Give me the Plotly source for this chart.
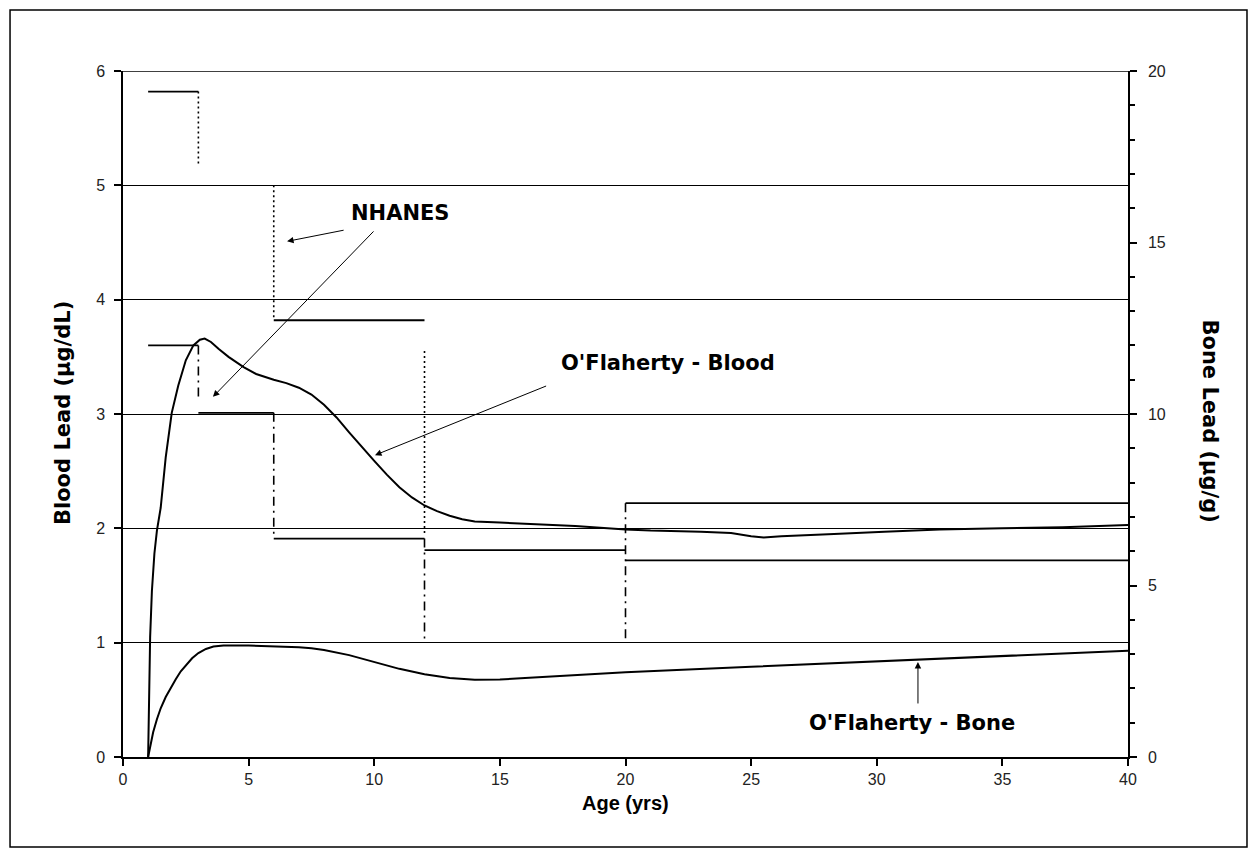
import plotly.graph_objects as go

# ---- NHANES blood lead by age group (µg/dL) ----
# horizontal steps: (age_start, age_end, level)
nhanes_start = [1, 1, 3, 6, 6, 12, 20, 20]
nhanes_end = [3, 3, 6, 12, 12, 20, 40, 40]
nhanes_level = [5.82, 3.6, 3.01, 3.82, 1.91, 1.81, 2.22, 1.72]

# dotted connectors between age groups: (age, from, to)
dot_age = [3, 6, 12]
dot_from = [5.82, 5.0, 3.55]
dot_to = [5.18, 3.82, 1.95]

# dash-dot connectors between age groups
dd_age = [3, 6, 12, 20]
dd_from = [3.6, 3.01, 1.91, 2.22]
dd_to = [3.15, 1.91, 1.0, 1.0]

# ---- O'Flaherty model: blood lead (µg/dL) ----
blood_age = [1.0, 1.03, 1.08, 1.15, 1.25, 1.35, 1.5, 1.7, 1.94, 2.2, 2.5, 2.8,
             3.06, 3.25, 3.5, 3.8, 4.2, 4.8, 5.3, 6.0, 6.5, 7.0, 7.5, 8.0, 8.5,
             9.0, 9.5, 10.0, 10.5, 11.0, 11.5, 12.0, 12.5, 13.0, 13.5, 14.0,
             15.0, 16.0, 18.0, 20.0, 21.0, 23.0, 24.2, 25.0, 25.5, 26.2, 27.0,
             28.3, 30.3, 32.5, 35.0, 37.4, 40.0]
blood_val = [0.0, 0.55, 1.05, 1.45, 1.78, 1.98, 2.18, 2.62, 3.01, 3.25, 3.47, 3.6,
             3.65, 3.66, 3.63, 3.57, 3.5, 3.41, 3.35, 3.30, 3.27, 3.23, 3.17, 3.08,
             2.97, 2.84, 2.71, 2.59, 2.47, 2.36, 2.27, 2.20, 2.15, 2.11, 2.08, 2.06,
             2.05, 2.04, 2.02, 1.99, 1.98, 1.97, 1.96, 1.93, 1.92, 1.93, 1.94,
             1.95, 1.97, 1.99, 2.0, 2.01, 2.03]

# ---- O'Flaherty model: bone lead (µg/g) ----
bone_age = [1.0, 1.1, 1.2, 1.35, 1.5, 1.7, 1.9, 2.1, 2.3, 2.5, 2.75, 3.0, 3.3,
            3.6, 4.0, 5.0, 6.0, 7.0, 7.5, 8.0, 9.0, 10.0, 11.0, 12.0, 13.0, 14.0,
            15.0, 16.0, 17.5, 19.0, 20.0, 25.0, 30.0, 35.0, 40.0]
bone_val = [0.0, 0.38, 0.72, 1.1, 1.42, 1.75, 2.02, 2.27, 2.5, 2.68, 2.88, 3.03,
            3.15, 3.22, 3.25, 3.25, 3.23, 3.2, 3.17, 3.12, 2.97, 2.78, 2.57, 2.41,
            2.3, 2.25, 2.26, 2.3, 2.37, 2.44, 2.47, 2.63, 2.79, 2.95, 3.1]

x_ticks = [0, 5, 10, 15, 20, 25, 30, 35, 40]

TICK_FONT = "Arial, Liberation Sans, sans-serif"
TITLE_FONT = "DejaVu Sans, Verdana, sans-serif"

# build the step traces from the lists above
hx, hy = [], []
for a, b, v in zip(nhanes_start, nhanes_end, nhanes_level):
    hx += [a, b, None]
    hy += [v, v, None]

dx, dy = [], []
for a, f, t in zip(dot_age, dot_from, dot_to):
    dx += [a, a, None]
    dy += [f, t, None]

ddx, ddy = [], []
for a, f, t in zip(dd_age, dd_from, dd_to):
    ddx += [a, a, None]
    ddy += [f, t, None]

fig = go.Figure()

fig.add_trace(go.Scatter(x=hx, y=hy, mode="lines", line=dict(color="black", width=1.8),
                         hoverinfo="skip", showlegend=False))
fig.add_trace(go.Scatter(x=dx, y=dy, mode="lines",
                         line=dict(color="black", width=1.6, dash="2px,3px"),
                         hoverinfo="skip", showlegend=False))
fig.add_trace(go.Scatter(x=ddx, y=ddy, mode="lines",
                         line=dict(color="black", width=1.6, dash="9px,5px,2px,5px"),
                         hoverinfo="skip", showlegend=False))
fig.add_trace(go.Scatter(x=blood_age, y=blood_val, mode="lines",
                         line=dict(color="black", width=2),
                         name="O'Flaherty - Blood", showlegend=False))
fig.add_trace(go.Scatter(x=bone_age, y=bone_val, mode="lines", yaxis="y2",
                         line=dict(color="black", width=2),
                         name="O'Flaherty - Bone", showlegend=False))

annotations = []
# labels inside the plot
for txt, ax_, ay_ in [("NHANES", 11.03, 4.76),
                      ("O'Flaherty - Blood", 21.7, 3.45),
                      ("O'Flaherty - Bone", 31.4, 0.30)]:
    annotations.append(dict(x=ax_, y=ay_, xref="x", yref="y", text="<b>%s</b>" % txt,
                            xanchor="center", yanchor="middle", showarrow=False,
                            font=dict(family=TITLE_FONT, size=21, color="black")))

# pointer arrows: (head_x, head_y, tail_x, tail_y)
arrows = [(6.53, 4.51, 8.84, 4.61),
          (3.58, 3.15, 10.03, 4.61),
          (10.03, 2.64, 16.9, 3.25),
          (31.64, 0.83, 31.64, 0.455)]
for hx_, hy_, tx_, ty_ in arrows:
    annotations.append(dict(x=hx_, y=hy_, ax=tx_, ay=ty_, xref="x", yref="y",
                            axref="x", ayref="y", text="", showarrow=True,
                            arrowhead=2, arrowsize=1.3, arrowwidth=1, arrowcolor="black"))

# axis titles
annotations += [
    dict(x=-0.059, y=0.501, xref="paper", yref="paper", text="<b>Blood Lead (µg/dL)</b>",
         textangle=-90, xanchor="center", yanchor="middle", showarrow=False,
         font=dict(family=TITLE_FONT, size=21, color="black")),
    dict(x=1.082, y=0.49, xref="paper", yref="paper", text="<b>Bone Lead (µg/g)</b>",
         textangle=90, xanchor="center", yanchor="middle", showarrow=False,
         font=dict(family=TITLE_FONT, size=21, color="black")),
    dict(x=0.5, y=-0.067, xref="paper", yref="paper", text="<b>Age (yrs)</b>",
         xanchor="center", yanchor="middle", showarrow=False,
         font=dict(family=TICK_FONT, size=20, color="black")),
]

shapes = [
    # top edge of the plot area
    dict(type="line", xref="paper", yref="y", x0=0, x1=1, y0=6, y1=6,
         line=dict(color="black", width=1.5)),
    # outer chart frame
    dict(type="rect", xref="paper", yref="paper", x0=-0.1124, x1=1.1184,
         y0=-0.1312, y1=1.0889, line=dict(color="black", width=1.5)),
]

fig.update_layout(
    width=1257, height=857,
    margin=dict(l=123, r=129, t=71, b=100),
    paper_bgcolor="white", plot_bgcolor="white",
    font=dict(family=TICK_FONT, size=16, color="#222"),
    xaxis=dict(range=[0, 40], tickvals=x_ticks, ticks="outside", ticklen=7,
               tickcolor="black", tickwidth=1.5, showline=True, linecolor="black",
               linewidth=1.5, showgrid=False, zeroline=False,
               tickfont=dict(size=16)),
    yaxis=dict(range=[0, 6], dtick=1, ticks="outside", ticklen=7, tickcolor="black",
               tickwidth=1.5, showline=True, linecolor="black", linewidth=1.5,
               showgrid=True, gridcolor="black", gridwidth=1.3, zeroline=False,
               ticklabelstandoff=6, tickfont=dict(size=16)),
    yaxis2=dict(range=[0, 20], dtick=5, overlaying="y", side="right", ticks="outside",
                ticklen=7, tickcolor="black", tickwidth=1.5, showline=True,
                linecolor="black", linewidth=1.5, showgrid=False, zeroline=False,
                minor=dict(dtick=1, ticks="outside", ticklen=5, tickcolor="black"),
                ticklabelstandoff=8, tickfont=dict(size=16)),
    annotations=annotations,
    shapes=shapes,
)

fig.write_html("out.html")
